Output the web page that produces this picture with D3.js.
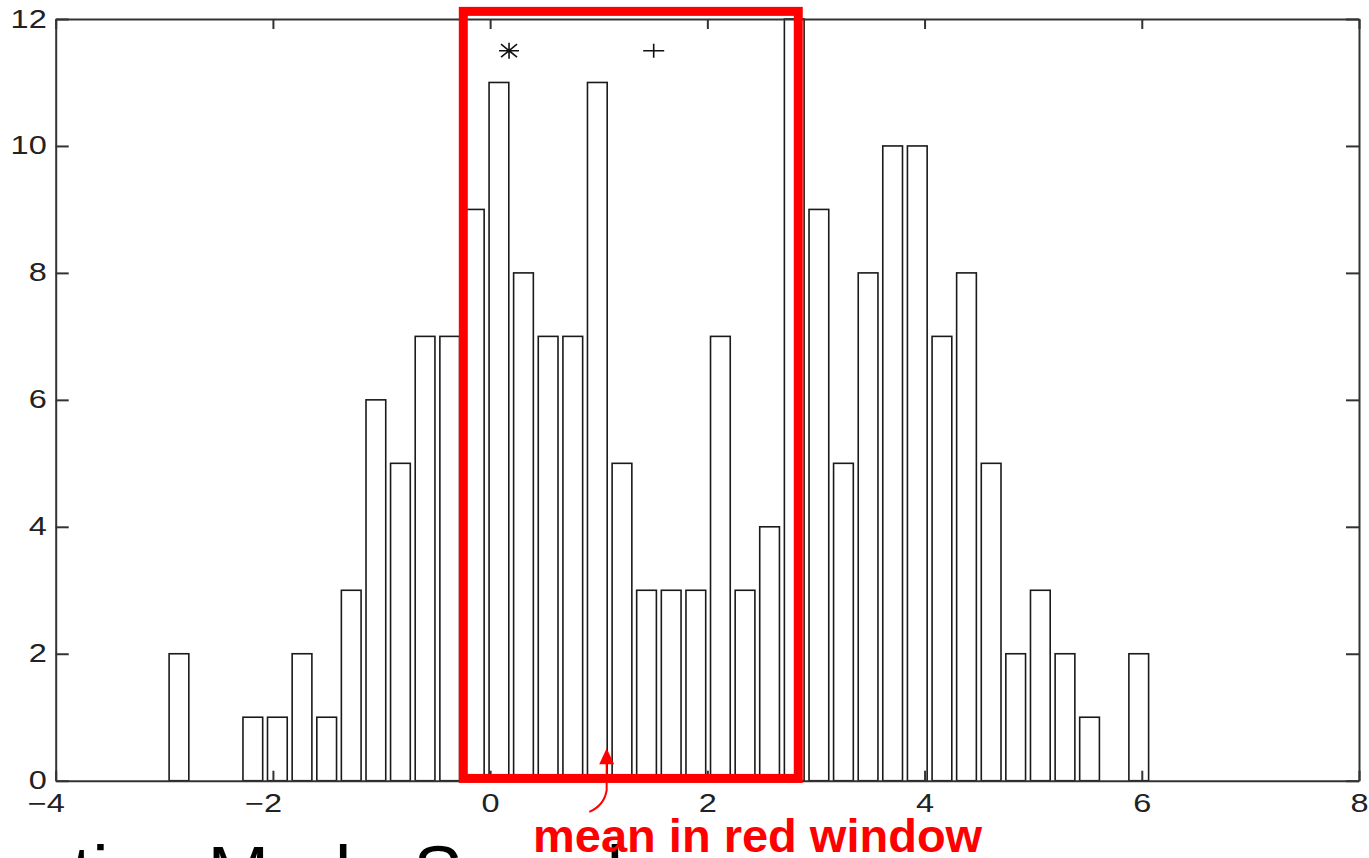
<!DOCTYPE html>
<html lang="en">
<head>
  <meta charset="UTF-8">
  <title>Iterative Mode Search</title>
  <script src="https://d3js.org/d3.v7.min.js"></script>
  <style>
    html, body { margin: 0; padding: 0; background: #fff; overflow: hidden; }
    svg { display: block; }
    .axis path, .axis line { stroke: #333; stroke-width: 2; }
    .axis text { font-family: "Liberation Sans", Arial, sans-serif; font-size: 25px; fill: #222; }
  </style>
</head>
<body>
  <svg width="1369" height="858"></svg>

  <script>
    // histogram bins (centres) and counts
    const binCenters = [-2.865, -2.638, -2.412, -2.185, -1.959, -1.732, -1.505, -1.279, -1.052, -0.826,
                        -0.599, -0.372, -0.146, 0.081, 0.307, 0.534, 0.761, 0.987, 1.214, 1.440,
                        1.667, 1.894, 2.120, 2.347, 2.573, 2.800, 3.027, 3.253, 3.480, 3.706,
                        3.933, 4.160, 4.386, 4.613, 4.839, 5.066, 5.293, 5.519, 5.746, 5.972];
    const counts = [2, 0, 0, 1, 1, 2, 1, 3, 6, 5,
                    7, 7, 9, 11, 8, 7, 7, 11, 5, 3,
                    3, 3, 7, 3, 4, 12, 9, 5, 8, 10,
                    10, 7, 8, 5, 2, 3, 2, 1, 0, 2];
    const xTicks = [-4, -2, 0, 2, 4, 6, 8];
    const yTicks = [0, 2, 4, 6, 8, 10, 12];

    // annotations
    const startPoint = [0.174, 11.5];   // asterisk
    const meanPoint = [1.506, 11.5];    // plus
    const windowX = [-0.247, 2.837];
    const windowY = [0.036, 12.12];
    const arrowTail = [0.913, -0.49];
    const arrowCtrl = [1.05, -0.39];
    const arrowBend = [1.073, -0.15];
    const arrowTip = [1.073, 0.51];
    const noteText = "mean in red window";
    const titleText = "Iterative Mode Search";

    const svg = d3.select("svg");
    const width = +svg.attr("width");
    const height = +svg.attr("height");
    const margin = {top: 19, right: 10, bottom: 77.3, left: 55.7};
    const stretch = 1.3; // tick labels look wider than tall

    const x = d3.scaleLinear()
                .domain([-4, 8])
                .range([margin.left, width - margin.right]);
    const y = d3.scaleLinear()
                .domain([0, 12])
                .range([height - margin.bottom, margin.top]);

    // barras (80% of the bin width, as in matlab's bar)
    const bw = 0.8 * (binCenters[1] - binCenters[0]);
    const bins = binCenters.map((c, i) => ({c: c, v: counts[i]})).filter(d => d.v > 0);

    svg.append("g")
       .selectAll("rect")
       .data(bins)
       .enter()
       .append("rect")
       .attr("x", d => x(d.c - bw / 2))
       .attr("width", d => x(d.c + bw / 2) - x(d.c - bw / 2))
       .attr("y", d => y(d.v))
       .attr("height", d => y(0) - y(d.v))
       .attr("fill", "#fff")
       .attr("stroke", "#1a1a1a")
       .attr("stroke-width", 1.6);

    // eixos, ticks pointing inward on all four sides
    const fmt = d3.format("d");
    svg.append("g")
       .attr("class", "axis")
       .attr("transform", `translate(0,${y(0)})`)
       .call(d3.axisBottom(x).tickValues(xTicks).tickSizeInner(-10).tickSizeOuter(0).tickPadding(14).tickFormat(fmt))
       .selectAll("text")
       .attr("x", d => (d < 0 ? -10 : 0) / stretch)
       .attr("transform", `scale(${stretch},1)`);

    svg.append("g")
       .attr("class", "axis")
       .attr("transform", `translate(${x(-4)},0)`)
       .call(d3.axisLeft(y).tickValues(yTicks).tickSizeInner(-13).tickSizeOuter(0).tickPadding(9).tickFormat(fmt))
       .selectAll("text")
       .attr("x", -9 / stretch)
       .attr("transform", `scale(${stretch},1)`);

    svg.append("g")
       .attr("class", "axis")
       .attr("transform", `translate(0,${y(12)})`)
       .call(d3.axisTop(x).tickValues(xTicks).tickSizeInner(-10).tickSizeOuter(0).tickFormat(""));

    svg.append("g")
       .attr("class", "axis")
       .attr("transform", `translate(${x(8)},0)`)
       .call(d3.axisRight(y).tickValues(yTicks).tickSizeInner(-13).tickSizeOuter(0).tickFormat(""));

    svg.selectAll(".axis .domain").attr("fill", "none");

    // marcadores
    const sx = x(startPoint[0]), sy = y(startPoint[1]);
    svg.append("path")
       .attr("d", `M${sx - 10},${sy}H${sx + 10}M${sx},${sy - 8}V${sy + 8}` +
                  `M${sx - 8},${sy - 6.5}L${sx + 8},${sy + 6.5}M${sx - 8},${sy + 6.5}L${sx + 8},${sy - 6.5}`)
       .attr("stroke", "#111")
       .attr("stroke-width", 1.6)
       .attr("fill", "none");

    const mx = x(meanPoint[0]), my = y(meanPoint[1]);
    svg.append("path")
       .attr("d", `M${mx - 10.5},${my}H${mx + 10.5}M${mx},${my - 7}V${my + 7}`)
       .attr("stroke", "#111")
       .attr("stroke-width", 1.6)
       .attr("fill", "none");

    // janela vermelha
    svg.append("rect")
       .attr("x", x(windowX[0]))
       .attr("y", y(windowY[1]))
       .attr("width", x(windowX[1]) - x(windowX[0]))
       .attr("height", y(windowY[0]) - y(windowY[1]))
       .attr("fill", "none")
       .attr("stroke", "#ff0000")
       .attr("stroke-width", 9);

    // seta
    const shaftTop = y(arrowTip[1]) + 15;
    svg.append("path")
       .attr("d", `M${x(arrowTail[0])},${y(arrowTail[1])}` +
                  `Q${x(arrowCtrl[0])},${y(arrowCtrl[1])} ${x(arrowBend[0])},${y(arrowBend[1])}` +
                  `V${shaftTop}`)
       .attr("fill", "none")
       .attr("stroke", "#ff0000")
       .attr("stroke-width", 2);
    svg.append("path")
       .attr("d", `M${x(arrowTip[0])},${y(arrowTip[1])}L${x(arrowTip[0]) - 7.5},${shaftTop + 1}L${x(arrowTip[0]) + 7.5},${shaftTop + 1}Z`)
       .attr("fill", "#ff0000");

    // titulo do slide, cortado pela margem de baixo
    const title = svg.append("text")
       .attr("x", 0)
       .attr("y", 898)
       .attr("font-family", "Liberation Sans, Arial, sans-serif")
       .attr("font-size", 74)
       .attr("fill", "#000")
       .text(titleText);
    const mPos = title.node().getStartPositionOfChar(titleText.indexOf("M")).x;
    title.attr("x", 207.5 - mPos);

    // nota
    svg.append("text")
       .attr("x", 533)
       .attr("y", 851.5)
       .attr("font-family", "Liberation Sans, Arial, sans-serif")
       .attr("font-weight", "bold")
       .attr("font-size", 47)
       .attr("fill", "#ff0000")
       .text(noteText);
  </script>
</body>
</html>
